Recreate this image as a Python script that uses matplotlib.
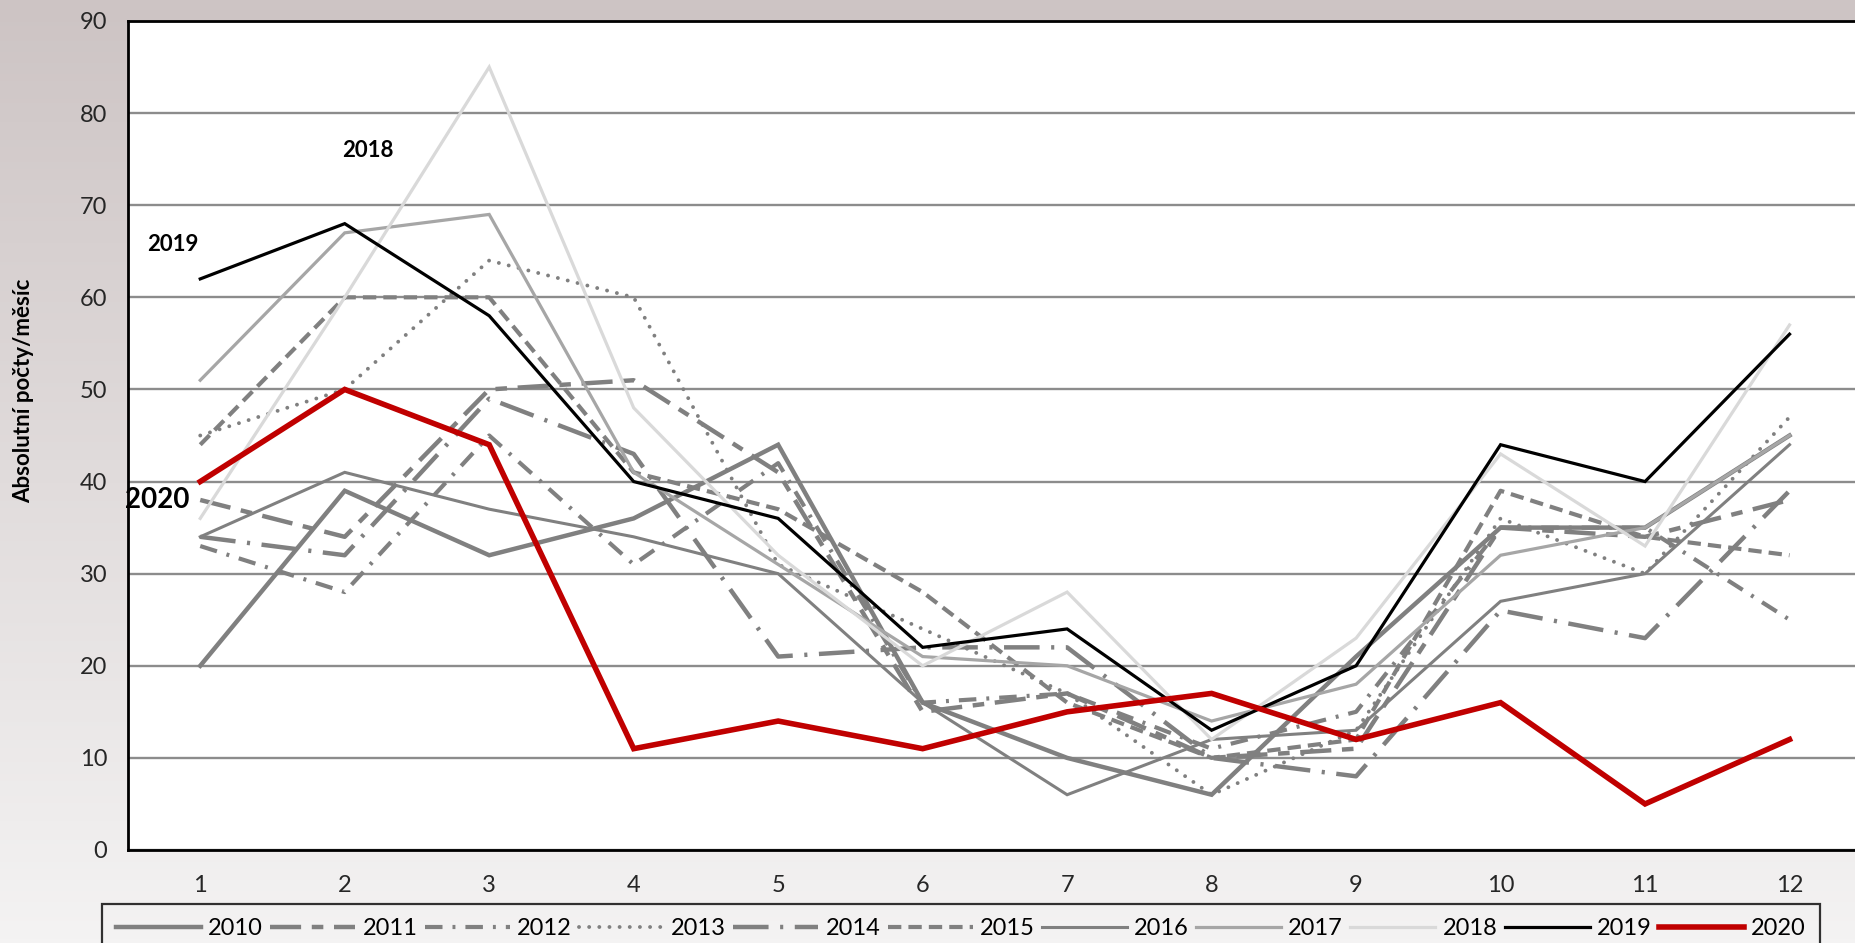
import numpy as np
import matplotlib
matplotlib.use("Agg")
import matplotlib.pyplot as plt

plt.rcParams['font.family'] = ['Lato', 'DejaVu Sans']

# data (monthly counts)
months = list(range(1, 13))
years = ['2010', '2011', '2012', '2013', '2014', '2015',
         '2016', '2017', '2018', '2019', '2020']
v2010 = [20, 39, 32, 36, 44, 16, 10, 6, 21, 35, 35, 45]
v2011 = [38, 34, 50, 51, 41, 15, 17, 10, 11, 35, 34, 38]
v2012 = [33, 28, 45, 31, 42, 16, 17, 11, 15, 35, 35, 25]
v2013 = [45, 50, 64, 60, 31, 24, 17, 6, 13, 36, 30, 47]
v2014 = [34, 32, 49, 43, 21, 22, 22, 10, 8, 26, 23, 39]
v2015 = [44, 60, 60, 41, 37, 28, 16, 10, 12, 39, 34, 32]
v2016 = [34, 41, 37, 34, 30, 16, 6, 12, 13, 27, 30, 44]
v2017 = [51, 67, 69, 41, 31, 21, 20, 14, 18, 32, 35, 45]
v2018 = [36, 60, 85, 48, 32, 20, 28, 12, 23, 43, 33, 57]
v2019 = [62, 68, 58, 40, 36, 22, 24, 13, 20, 44, 40, 56]
v2020 = [40, 50, 44, 11, 14, 11, 15, 17, 12, 16, 5, 12]
series = [v2010, v2011, v2012, v2013, v2014, v2015,
          v2016, v2017, v2018, v2019, v2020]

# line look per year: colour, width, dash pattern (None = solid)
grey = '#808080'
looks = [
    (grey, 3.2, None),
    (grey, 3.2, (7, 2.4, 2.6, 2.4)),
    (grey, 3.0, (4.2, 2.4, 0.7, 2.4)),
    (grey, 2.8, (0.01, 2.6)),
    (grey, 3.2, (8, 2.6, 0.7, 2.6)),
    (grey, 3.0, (3.2, 1.7)),
    (grey, 2.2, None),
    ('#a6a6a6', 2.3, None),
    ('#d9d9d9', 2.3, None),
    ('black', 2.3, None),
    ('#c00000', 4.0, None),
]

W, H = 1856, 943
fig = plt.figure(figsize=(W / 100, H / 100), dpi=100)

# slide background: vertical grey-pink gradient
bg = fig.add_axes([0, 0, 1, 1], zorder=-10)
top = np.array([205, 196, 196]) / 255
bot = np.array([244, 243, 243]) / 255
t = np.linspace(0, 1, 256)[:, None, None]
grad = top * (1 - t) + bot * t
bg.imshow(grad, aspect='auto', extent=[0, 1, 0, 1], origin='upper')
bg.axis('off')

ax = fig.add_axes([128 / W, 1 - 850 / H, 1 - 128 / W, (850 - 21) / H])
ax.set_facecolor('white')
ax.set_xlim(0.5, 12.46)
ax.set_ylim(0, 90)
ax.set_yticks(range(0, 91, 10))
ax.set_xticks(months)
ax.grid(axis='y', color='#8c8c8c', lw=1.7)
ax.set_axisbelow(True)
ax.tick_params(length=0, labelsize=17, colors='#262626')
ax.tick_params(axis='y', pad=15)
ax.tick_params(axis='x', pad=18)
for s in ['top', 'left', 'bottom']:
    ax.spines[s].set_color('black')
    ax.spines[s].set_linewidth(2)
ax.spines['right'].set_visible(False)

handles = []
for yr, vals, (col, lw, dash) in zip(years, series, looks):
    if dash is None:
        ln, = ax.plot(months, vals, color=col, lw=lw, label=yr,
                      solid_joinstyle='miter')
    else:
        ln, = ax.plot(months, vals, color=col, lw=lw, label=yr,
                      dashes=dash, dash_capstyle='round' if dash[0] < 0.1 else 'butt')
    handles.append(ln)

ax.text(2.16, 75.9, '2018', fontsize=16, fontweight='bold', ha='center', va='center')
ax.text(0.81, 65.7, '2019', fontsize=16, fontweight='bold', ha='center', va='center')
ax.text(0.70, 38.0, '2020', fontsize=20, fontweight='bold', ha='center', va='center',
        clip_on=False)

fig.text(24 / W, 1 - 391 / H, 'Absolutní počty/měsíc', rotation=90,
         fontsize=16, fontweight='bold', ha='center', va='center')

leg = fig.legend(handles, years, ncol=11, loc='upper left', mode='expand',
                 bbox_to_anchor=(102 / W, 1 - 904 / H - 0.06, (1820 - 102) / W, 0.06),
                 borderaxespad=0, fontsize=17, handlelength=3.6, handletextpad=0.3,
                 columnspacing=0.6, fancybox=False, frameon=True, borderpad=0.6)
leg.get_frame().set_edgecolor('black')
leg.get_frame().set_linewidth(1.6)
leg.get_frame().set_facecolor('none')

fig.savefig('out.png', dpi=100)
